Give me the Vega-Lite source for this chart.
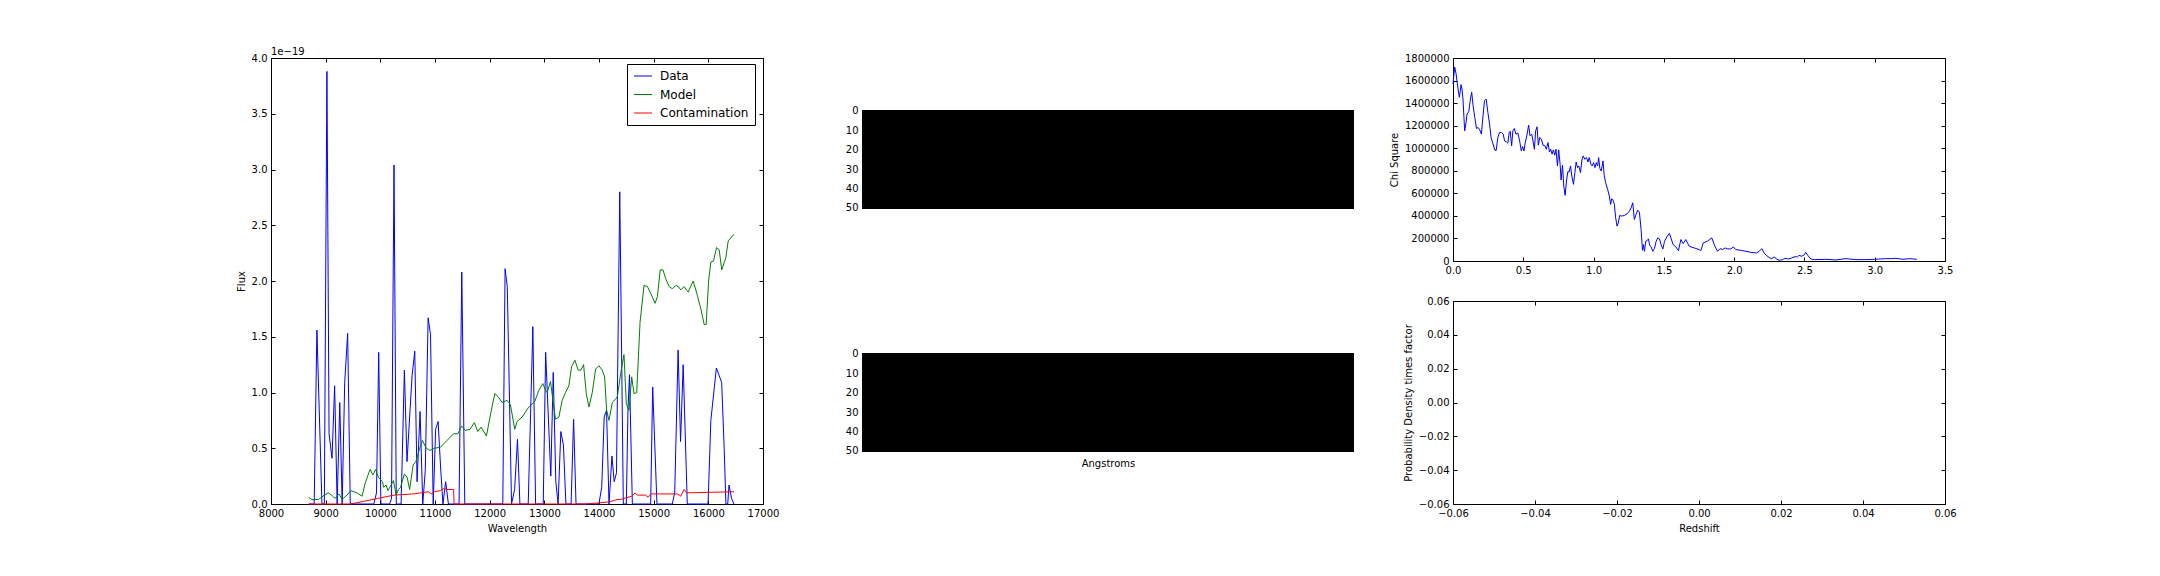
{
  "$schema": "https://vega.github.io/schema/vega-lite/v6.json",
  "background": "white",
  "padding": {"left": 235, "top": 46, "right": 0, "bottom": 0},
  "autosize": {"type": "pad"},
  "bounds": "flush",
  "spacing": 99,
  "datasets": {
    "spectra": [
      {"Wavelength": 8690, "Flux": 0, "Series": "Data"},
      {"Wavelength": 8790, "Flux": 0, "Series": "Data"},
      {"Wavelength": 8840, "Flux": 1.56e-19, "Series": "Data"},
      {"Wavelength": 8932, "Flux": 0, "Series": "Data"},
      {"Wavelength": 8976, "Flux": 0, "Series": "Data"},
      {"Wavelength": 9023, "Flux": 3.88e-19, "Series": "Data"},
      {"Wavelength": 9062, "Flux": 0.63e-19, "Series": "Data"},
      {"Wavelength": 9116, "Flux": 0.41e-19, "Series": "Data"},
      {"Wavelength": 9164, "Flux": 1.06e-19, "Series": "Data"},
      {"Wavelength": 9210, "Flux": 0, "Series": "Data"},
      {"Wavelength": 9258, "Flux": 0.91e-19, "Series": "Data"},
      {"Wavelength": 9302, "Flux": 0, "Series": "Data"},
      {"Wavelength": 9348, "Flux": 1.09e-19, "Series": "Data"},
      {"Wavelength": 9402, "Flux": 1.53e-19, "Series": "Data"},
      {"Wavelength": 9450, "Flux": 0, "Series": "Data"},
      {"Wavelength": 9880, "Flux": 0, "Series": "Data"},
      {"Wavelength": 9930, "Flux": 0.1e-19, "Series": "Data"},
      {"Wavelength": 9970, "Flux": 1.36e-19, "Series": "Data"},
      {"Wavelength": 10010, "Flux": 0, "Series": "Data"},
      {"Wavelength": 10170, "Flux": 0, "Series": "Data"},
      {"Wavelength": 10205, "Flux": 0.05e-19, "Series": "Data"},
      {"Wavelength": 10250, "Flux": 3.04e-19, "Series": "Data"},
      {"Wavelength": 10292, "Flux": 0, "Series": "Data"},
      {"Wavelength": 10380, "Flux": 0, "Series": "Data"},
      {"Wavelength": 10440, "Flux": 1.2e-19, "Series": "Data"},
      {"Wavelength": 10488, "Flux": 0.38e-19, "Series": "Data"},
      {"Wavelength": 10582, "Flux": 1.16e-19, "Series": "Data"},
      {"Wavelength": 10630, "Flux": 1.37e-19, "Series": "Data"},
      {"Wavelength": 10672, "Flux": 0.2e-19, "Series": "Data"},
      {"Wavelength": 10727, "Flux": 0.83e-19, "Series": "Data"},
      {"Wavelength": 10776, "Flux": 0, "Series": "Data"},
      {"Wavelength": 10822, "Flux": 0.3e-19, "Series": "Data"},
      {"Wavelength": 10874, "Flux": 1.67e-19, "Series": "Data"},
      {"Wavelength": 10918, "Flux": 1.52e-19, "Series": "Data"},
      {"Wavelength": 10967, "Flux": 0, "Series": "Data"},
      {"Wavelength": 11012, "Flux": 0.67e-19, "Series": "Data"},
      {"Wavelength": 11057, "Flux": 0.74e-19, "Series": "Data"},
      {"Wavelength": 11100, "Flux": 0.35e-19, "Series": "Data"},
      {"Wavelength": 11145, "Flux": 0, "Series": "Data"},
      {"Wavelength": 11195, "Flux": 0.2e-19, "Series": "Data"},
      {"Wavelength": 11245, "Flux": 0, "Series": "Data"},
      {"Wavelength": 11440, "Flux": 0, "Series": "Data"},
      {"Wavelength": 11490, "Flux": 2.08e-19, "Series": "Data"},
      {"Wavelength": 11545, "Flux": 0, "Series": "Data"},
      {"Wavelength": 12240, "Flux": 0, "Series": "Data"},
      {"Wavelength": 12282, "Flux": 2.11e-19, "Series": "Data"},
      {"Wavelength": 12322, "Flux": 1.95e-19, "Series": "Data"},
      {"Wavelength": 12400, "Flux": 0, "Series": "Data"},
      {"Wavelength": 12456, "Flux": 0.13e-19, "Series": "Data"},
      {"Wavelength": 12509, "Flux": 0.58e-19, "Series": "Data"},
      {"Wavelength": 12553, "Flux": 0, "Series": "Data"},
      {"Wavelength": 12705, "Flux": 0, "Series": "Data"},
      {"Wavelength": 12790, "Flux": 1.59e-19, "Series": "Data"},
      {"Wavelength": 12840, "Flux": 0, "Series": "Data"},
      {"Wavelength": 12980, "Flux": 0, "Series": "Data"},
      {"Wavelength": 13024, "Flux": 1.36e-19, "Series": "Data"},
      {"Wavelength": 13118, "Flux": 0.25e-19, "Series": "Data"},
      {"Wavelength": 13163, "Flux": 1.18e-19, "Series": "Data"},
      {"Wavelength": 13210, "Flux": 0.2e-19, "Series": "Data"},
      {"Wavelength": 13252, "Flux": 0, "Series": "Data"},
      {"Wavelength": 13302, "Flux": 0.65e-19, "Series": "Data"},
      {"Wavelength": 13349, "Flux": 0.53e-19, "Series": "Data"},
      {"Wavelength": 13395, "Flux": 0, "Series": "Data"},
      {"Wavelength": 13490, "Flux": 0, "Series": "Data"},
      {"Wavelength": 13535, "Flux": 0.76e-19, "Series": "Data"},
      {"Wavelength": 13580, "Flux": 0, "Series": "Data"},
      {"Wavelength": 13998, "Flux": 0, "Series": "Data"},
      {"Wavelength": 14050, "Flux": 0.15e-19, "Series": "Data"},
      {"Wavelength": 14095, "Flux": 0.78e-19, "Series": "Data"},
      {"Wavelength": 14138, "Flux": 0.84e-19, "Series": "Data"},
      {"Wavelength": 14183, "Flux": 0, "Series": "Data"},
      {"Wavelength": 14237, "Flux": 0.43e-19, "Series": "Data"},
      {"Wavelength": 14278, "Flux": 0.2e-19, "Series": "Data"},
      {"Wavelength": 14320, "Flux": 0.28e-19, "Series": "Data"},
      {"Wavelength": 14380, "Flux": 2.8e-19, "Series": "Data"},
      {"Wavelength": 14445, "Flux": 0, "Series": "Data"},
      {"Wavelength": 14500, "Flux": 0, "Series": "Data"},
      {"Wavelength": 14530, "Flux": 0.85e-19, "Series": "Data"},
      {"Wavelength": 14558, "Flux": 1.16e-19, "Series": "Data"},
      {"Wavelength": 14610, "Flux": 0, "Series": "Data"},
      {"Wavelength": 14945, "Flux": 0, "Series": "Data"},
      {"Wavelength": 14982, "Flux": 1.05e-19, "Series": "Data"},
      {"Wavelength": 15060, "Flux": 0, "Series": "Data"},
      {"Wavelength": 15340, "Flux": 0, "Series": "Data"},
      {"Wavelength": 15385, "Flux": 0.1e-19, "Series": "Data"},
      {"Wavelength": 15447, "Flux": 1.38e-19, "Series": "Data"},
      {"Wavelength": 15492, "Flux": 0.56e-19, "Series": "Data"},
      {"Wavelength": 15540, "Flux": 1.25e-19, "Series": "Data"},
      {"Wavelength": 15615, "Flux": 0, "Series": "Data"},
      {"Wavelength": 15995, "Flux": 0, "Series": "Data"},
      {"Wavelength": 16046, "Flux": 0.75e-19, "Series": "Data"},
      {"Wavelength": 16147, "Flux": 1.22e-19, "Series": "Data"},
      {"Wavelength": 16244, "Flux": 1.09e-19, "Series": "Data"},
      {"Wavelength": 16290, "Flux": 0.5e-19, "Series": "Data"},
      {"Wavelength": 16322, "Flux": 0, "Series": "Data"},
      {"Wavelength": 16355, "Flux": 0, "Series": "Data"},
      {"Wavelength": 16378, "Flux": 0.17e-19, "Series": "Data"},
      {"Wavelength": 16425, "Flux": 0.05e-19, "Series": "Data"},
      {"Wavelength": 16470, "Flux": 0, "Series": "Data"},

      {"Wavelength": 8690, "Flux": 0.06e-19, "Series": "Model"},
      {"Wavelength": 8745, "Flux": 0.04e-19, "Series": "Model"},
      {"Wavelength": 8870, "Flux": 0.04e-19, "Series": "Model"},
      {"Wavelength": 8975, "Flux": 0.08e-19, "Series": "Model"},
      {"Wavelength": 9045, "Flux": 0.1e-19, "Series": "Model"},
      {"Wavelength": 9110, "Flux": 0.08e-19, "Series": "Model"},
      {"Wavelength": 9170, "Flux": 0.05e-19, "Series": "Model"},
      {"Wavelength": 9245, "Flux": 0.09e-19, "Series": "Model"},
      {"Wavelength": 9300, "Flux": 0.04e-19, "Series": "Model"},
      {"Wavelength": 9390, "Flux": 0.08e-19, "Series": "Model"},
      {"Wavelength": 9460, "Flux": 0.12e-19, "Series": "Model"},
      {"Wavelength": 9570, "Flux": 0.1e-19, "Series": "Model"},
      {"Wavelength": 9665, "Flux": 0.07e-19, "Series": "Model"},
      {"Wavelength": 9725, "Flux": 0.19e-19, "Series": "Model"},
      {"Wavelength": 9790, "Flux": 0.28e-19, "Series": "Model"},
      {"Wavelength": 9815, "Flux": 0.31e-19, "Series": "Model"},
      {"Wavelength": 9862, "Flux": 0.26e-19, "Series": "Model"},
      {"Wavelength": 9915, "Flux": 0.31e-19, "Series": "Model"},
      {"Wavelength": 9965, "Flux": 0.24e-19, "Series": "Model"},
      {"Wavelength": 10040, "Flux": 0.2e-19, "Series": "Model"},
      {"Wavelength": 10060, "Flux": 0.15e-19, "Series": "Model"},
      {"Wavelength": 10105, "Flux": 0.17e-19, "Series": "Model"},
      {"Wavelength": 10140, "Flux": 0.12e-19, "Series": "Model"},
      {"Wavelength": 10240, "Flux": 0.21e-19, "Series": "Model"},
      {"Wavelength": 10290, "Flux": 0.08e-19, "Series": "Model"},
      {"Wavelength": 10330, "Flux": 0.13e-19, "Series": "Model"},
      {"Wavelength": 10370, "Flux": 0.15e-19, "Series": "Model"},
      {"Wavelength": 10440, "Flux": 0.27e-19, "Series": "Model"},
      {"Wavelength": 10490, "Flux": 0.24e-19, "Series": "Model"},
      {"Wavelength": 10536, "Flux": 0.13e-19, "Series": "Model"},
      {"Wavelength": 10600, "Flux": 0.35e-19, "Series": "Model"},
      {"Wavelength": 10650, "Flux": 0.38e-19, "Series": "Model"},
      {"Wavelength": 10720, "Flux": 0.5e-19, "Series": "Model"},
      {"Wavelength": 10770, "Flux": 0.57e-19, "Series": "Model"},
      {"Wavelength": 10840, "Flux": 0.5e-19, "Series": "Model"},
      {"Wavelength": 10905, "Flux": 0.48e-19, "Series": "Model"},
      {"Wavelength": 10990, "Flux": 0.5e-19, "Series": "Model"},
      {"Wavelength": 11100, "Flux": 0.51e-19, "Series": "Model"},
      {"Wavelength": 11220, "Flux": 0.57e-19, "Series": "Model"},
      {"Wavelength": 11340, "Flux": 0.63e-19, "Series": "Model"},
      {"Wavelength": 11420, "Flux": 0.63e-19, "Series": "Model"},
      {"Wavelength": 11485, "Flux": 0.7e-19, "Series": "Model"},
      {"Wavelength": 11556, "Flux": 0.66e-19, "Series": "Model"},
      {"Wavelength": 11640, "Flux": 0.67e-19, "Series": "Model"},
      {"Wavelength": 11720, "Flux": 0.73e-19, "Series": "Model"},
      {"Wavelength": 11782, "Flux": 0.65e-19, "Series": "Model"},
      {"Wavelength": 11843, "Flux": 0.69e-19, "Series": "Model"},
      {"Wavelength": 11941, "Flux": 0.61e-19, "Series": "Model"},
      {"Wavelength": 12014, "Flux": 0.8e-19, "Series": "Model"},
      {"Wavelength": 12094, "Flux": 0.99e-19, "Series": "Model"},
      {"Wavelength": 12161, "Flux": 0.96e-19, "Series": "Model"},
      {"Wavelength": 12227, "Flux": 0.91e-19, "Series": "Model"},
      {"Wavelength": 12319, "Flux": 0.93e-19, "Series": "Model"},
      {"Wavelength": 12380, "Flux": 0.89e-19, "Series": "Model"},
      {"Wavelength": 12459, "Flux": 0.67e-19, "Series": "Model"},
      {"Wavelength": 12502, "Flux": 0.74e-19, "Series": "Model"},
      {"Wavelength": 12594, "Flux": 0.78e-19, "Series": "Model"},
      {"Wavelength": 12716, "Flux": 0.87e-19, "Series": "Model"},
      {"Wavelength": 12826, "Flux": 0.92e-19, "Series": "Model"},
      {"Wavelength": 12899, "Flux": 1.02e-19, "Series": "Model"},
      {"Wavelength": 12973, "Flux": 1.08e-19, "Series": "Model"},
      {"Wavelength": 13022, "Flux": 1.02e-19, "Series": "Model"},
      {"Wavelength": 13052, "Flux": 1.0e-19, "Series": "Model"},
      {"Wavelength": 13113, "Flux": 1.1e-19, "Series": "Model"},
      {"Wavelength": 13156, "Flux": 0.93e-19, "Series": "Model"},
      {"Wavelength": 13205, "Flux": 0.76e-19, "Series": "Model"},
      {"Wavelength": 13266, "Flux": 0.78e-19, "Series": "Model"},
      {"Wavelength": 13327, "Flux": 0.93e-19, "Series": "Model"},
      {"Wavelength": 13388, "Flux": 1.0e-19, "Series": "Model"},
      {"Wavelength": 13449, "Flux": 1.06e-19, "Series": "Model"},
      {"Wavelength": 13498, "Flux": 1.23e-19, "Series": "Model"},
      {"Wavelength": 13559, "Flux": 1.29e-19, "Series": "Model"},
      {"Wavelength": 13620, "Flux": 1.2e-19, "Series": "Model"},
      {"Wavelength": 13669, "Flux": 1.2e-19, "Series": "Model"},
      {"Wavelength": 13718, "Flux": 1.25e-19, "Series": "Model"},
      {"Wavelength": 13767, "Flux": 0.99e-19, "Series": "Model"},
      {"Wavelength": 13816, "Flux": 0.87e-19, "Series": "Model"},
      {"Wavelength": 13877, "Flux": 1.0e-19, "Series": "Model"},
      {"Wavelength": 13938, "Flux": 1.21e-19, "Series": "Model"},
      {"Wavelength": 13999, "Flux": 1.24e-19, "Series": "Model"},
      {"Wavelength": 14060, "Flux": 1.2e-19, "Series": "Model"},
      {"Wavelength": 14103, "Flux": 1.14e-19, "Series": "Model"},
      {"Wavelength": 14140, "Flux": 0.84e-19, "Series": "Model"},
      {"Wavelength": 14182, "Flux": 0.75e-19, "Series": "Model"},
      {"Wavelength": 14244, "Flux": 0.91e-19, "Series": "Model"},
      {"Wavelength": 14300, "Flux": 0.94e-19, "Series": "Model"},
      {"Wavelength": 14335, "Flux": 0.96e-19, "Series": "Model"},
      {"Wavelength": 14396, "Flux": 1.17e-19, "Series": "Model"},
      {"Wavelength": 14457, "Flux": 1.34e-19, "Series": "Model"},
      {"Wavelength": 14500, "Flux": 0.9e-19, "Series": "Model"},
      {"Wavelength": 14549, "Flux": 0.84e-19, "Series": "Model"},
      {"Wavelength": 14598, "Flux": 1.14e-19, "Series": "Model"},
      {"Wavelength": 14641, "Flux": 0.99e-19, "Series": "Model"},
      {"Wavelength": 14690, "Flux": 1.0e-19, "Series": "Model"},
      {"Wavelength": 14751, "Flux": 1.63e-19, "Series": "Model"},
      {"Wavelength": 14824, "Flux": 1.96e-19, "Series": "Model"},
      {"Wavelength": 14885, "Flux": 1.95e-19, "Series": "Model"},
      {"Wavelength": 14946, "Flux": 1.89e-19, "Series": "Model"},
      {"Wavelength": 15026, "Flux": 1.8e-19, "Series": "Model"},
      {"Wavelength": 15068, "Flux": 1.86e-19, "Series": "Model"},
      {"Wavelength": 15120, "Flux": 2.1e-19, "Series": "Model"},
      {"Wavelength": 15170, "Flux": 2.1e-19, "Series": "Model"},
      {"Wavelength": 15221, "Flux": 2.02e-19, "Series": "Model"},
      {"Wavelength": 15282, "Flux": 1.95e-19, "Series": "Model"},
      {"Wavelength": 15343, "Flux": 1.93e-19, "Series": "Model"},
      {"Wavelength": 15404, "Flux": 1.96e-19, "Series": "Model"},
      {"Wavelength": 15453, "Flux": 1.95e-19, "Series": "Model"},
      {"Wavelength": 15496, "Flux": 1.92e-19, "Series": "Model"},
      {"Wavelength": 15557, "Flux": 1.95e-19, "Series": "Model"},
      {"Wavelength": 15631, "Flux": 1.9e-19, "Series": "Model"},
      {"Wavelength": 15722, "Flux": 2.0e-19, "Series": "Model"},
      {"Wavelength": 15789, "Flux": 1.89e-19, "Series": "Model"},
      {"Wavelength": 15863, "Flux": 1.75e-19, "Series": "Model"},
      {"Wavelength": 15924, "Flux": 1.61e-19, "Series": "Model"},
      {"Wavelength": 15960, "Flux": 1.61e-19, "Series": "Model"},
      {"Wavelength": 16005, "Flux": 2.0e-19, "Series": "Model"},
      {"Wavelength": 16046, "Flux": 2.17e-19, "Series": "Model"},
      {"Wavelength": 16095, "Flux": 2.18e-19, "Series": "Model"},
      {"Wavelength": 16150, "Flux": 2.3e-19, "Series": "Model"},
      {"Wavelength": 16199, "Flux": 2.28e-19, "Series": "Model"},
      {"Wavelength": 16245, "Flux": 2.1e-19, "Series": "Model"},
      {"Wavelength": 16321, "Flux": 2.21e-19, "Series": "Model"},
      {"Wavelength": 16364, "Flux": 2.36e-19, "Series": "Model"},
      {"Wavelength": 16470, "Flux": 2.42e-19, "Series": "Model"},

      {"Wavelength": 8690, "Flux": 0, "Series": "Contamination"},
      {"Wavelength": 9460, "Flux": 0, "Series": "Contamination"},
      {"Wavelength": 9950, "Flux": 0.05e-19, "Series": "Contamination"},
      {"Wavelength": 10250, "Flux": 0.08e-19, "Series": "Contamination"},
      {"Wavelength": 10600, "Flux": 0.09e-19, "Series": "Contamination"},
      {"Wavelength": 10740, "Flux": 0.1e-19, "Series": "Contamination"},
      {"Wavelength": 10880, "Flux": 0.11e-19, "Series": "Contamination"},
      {"Wavelength": 10935, "Flux": 0.09e-19, "Series": "Contamination"},
      {"Wavelength": 10990, "Flux": 0.11e-19, "Series": "Contamination"},
      {"Wavelength": 11100, "Flux": 0.12e-19, "Series": "Contamination"},
      {"Wavelength": 11160, "Flux": 0.14e-19, "Series": "Contamination"},
      {"Wavelength": 11200, "Flux": 0.13e-19, "Series": "Contamination"},
      {"Wavelength": 11340, "Flux": 0.13e-19, "Series": "Contamination"},
      {"Wavelength": 11350, "Flux": 0, "Series": "Contamination"},
      {"Wavelength": 13750, "Flux": 0, "Series": "Contamination"},
      {"Wavelength": 14000, "Flux": 0.01e-19, "Series": "Contamination"},
      {"Wavelength": 14200, "Flux": 0.02e-19, "Series": "Contamination"},
      {"Wavelength": 14330, "Flux": 0.04e-19, "Series": "Contamination"},
      {"Wavelength": 14400, "Flux": 0.04e-19, "Series": "Contamination"},
      {"Wavelength": 14450, "Flux": 0.05e-19, "Series": "Contamination"},
      {"Wavelength": 14530, "Flux": 0.06e-19, "Series": "Contamination"},
      {"Wavelength": 14600, "Flux": 0.07e-19, "Series": "Contamination"},
      {"Wavelength": 14660, "Flux": 0.1e-19, "Series": "Contamination"},
      {"Wavelength": 14700, "Flux": 0.08e-19, "Series": "Contamination"},
      {"Wavelength": 14850, "Flux": 0.08e-19, "Series": "Contamination"},
      {"Wavelength": 14900, "Flux": 0.06e-19, "Series": "Contamination"},
      {"Wavelength": 14950, "Flux": 0.09e-19, "Series": "Contamination"},
      {"Wavelength": 15440, "Flux": 0.09e-19, "Series": "Contamination"},
      {"Wavelength": 15497, "Flux": 0.07e-19, "Series": "Contamination"},
      {"Wavelength": 15556, "Flux": 0.13e-19, "Series": "Contamination"},
      {"Wavelength": 15608, "Flux": 0.1e-19, "Series": "Contamination"},
      {"Wavelength": 16470, "Flux": 0.11e-19, "Series": "Contamination"}
    ],
    "chi": [
      {"Redshift": 0.0, "ChiSquare": 1570000},
      {"Redshift": 0.012, "ChiSquare": 1720000},
      {"Redshift": 0.022, "ChiSquare": 1660000},
      {"Redshift": 0.036, "ChiSquare": 1525000},
      {"Redshift": 0.045, "ChiSquare": 1451000},
      {"Redshift": 0.052, "ChiSquare": 1510000},
      {"Redshift": 0.057, "ChiSquare": 1564000},
      {"Redshift": 0.064, "ChiSquare": 1525000},
      {"Redshift": 0.071, "ChiSquare": 1436000},
      {"Redshift": 0.083, "ChiSquare": 1154000},
      {"Redshift": 0.093, "ChiSquare": 1228000},
      {"Redshift": 0.1, "ChiSquare": 1303000},
      {"Redshift": 0.112, "ChiSquare": 1323000},
      {"Redshift": 0.124, "ChiSquare": 1436000},
      {"Redshift": 0.133, "ChiSquare": 1496000},
      {"Redshift": 0.143, "ChiSquare": 1377000},
      {"Redshift": 0.155, "ChiSquare": 1273000},
      {"Redshift": 0.167, "ChiSquare": 1175000},
      {"Redshift": 0.179, "ChiSquare": 1184000},
      {"Redshift": 0.19, "ChiSquare": 1163000},
      {"Redshift": 0.202, "ChiSquare": 1125000},
      {"Redshift": 0.214, "ChiSquare": 1294000},
      {"Redshift": 0.224, "ChiSquare": 1421000},
      {"Redshift": 0.236, "ChiSquare": 1436000},
      {"Redshift": 0.248, "ChiSquare": 1318000},
      {"Redshift": 0.26, "ChiSquare": 1214000},
      {"Redshift": 0.271, "ChiSquare": 1095000},
      {"Redshift": 0.283, "ChiSquare": 1045000},
      {"Redshift": 0.298, "ChiSquare": 982000},
      {"Redshift": 0.307, "ChiSquare": 979000},
      {"Redshift": 0.319, "ChiSquare": 1095000},
      {"Redshift": 0.331, "ChiSquare": 1139000},
      {"Redshift": 0.345, "ChiSquare": 1139000},
      {"Redshift": 0.357, "ChiSquare": 1125000},
      {"Redshift": 0.367, "ChiSquare": 1065000},
      {"Redshift": 0.381, "ChiSquare": 1056000},
      {"Redshift": 0.39, "ChiSquare": 1045000},
      {"Redshift": 0.4, "ChiSquare": 1139000},
      {"Redshift": 0.407, "ChiSquare": 1151000},
      {"Redshift": 0.417, "ChiSquare": 1021000},
      {"Redshift": 0.426, "ChiSquare": 1154000},
      {"Redshift": 0.436, "ChiSquare": 1175000},
      {"Redshift": 0.448, "ChiSquare": 1125000},
      {"Redshift": 0.462, "ChiSquare": 1134000},
      {"Redshift": 0.474, "ChiSquare": 1065000},
      {"Redshift": 0.486, "ChiSquare": 976000},
      {"Redshift": 0.495, "ChiSquare": 1015000},
      {"Redshift": 0.505, "ChiSquare": 976000},
      {"Redshift": 0.514, "ChiSquare": 1050000},
      {"Redshift": 0.526, "ChiSquare": 1116000},
      {"Redshift": 0.538, "ChiSquare": 1205000},
      {"Redshift": 0.548, "ChiSquare": 1110000},
      {"Redshift": 0.56, "ChiSquare": 1125000},
      {"Redshift": 0.569, "ChiSquare": 1065000},
      {"Redshift": 0.579, "ChiSquare": 991000},
      {"Redshift": 0.588, "ChiSquare": 1154000},
      {"Redshift": 0.598, "ChiSquare": 1190000},
      {"Redshift": 0.607, "ChiSquare": 1027000},
      {"Redshift": 0.617, "ChiSquare": 1095000},
      {"Redshift": 0.629, "ChiSquare": 1080000},
      {"Redshift": 0.64, "ChiSquare": 1027000},
      {"Redshift": 0.655, "ChiSquare": 1021000},
      {"Redshift": 0.664, "ChiSquare": 991000},
      {"Redshift": 0.676, "ChiSquare": 1050000},
      {"Redshift": 0.686, "ChiSquare": 967000},
      {"Redshift": 0.695, "ChiSquare": 991000},
      {"Redshift": 0.705, "ChiSquare": 947000},
      {"Redshift": 0.714, "ChiSquare": 985000},
      {"Redshift": 0.724, "ChiSquare": 938000},
      {"Redshift": 0.733, "ChiSquare": 991000},
      {"Redshift": 0.743, "ChiSquare": 843000},
      {"Redshift": 0.752, "ChiSquare": 985000},
      {"Redshift": 0.762, "ChiSquare": 858000},
      {"Redshift": 0.769, "ChiSquare": 718000},
      {"Redshift": 0.779, "ChiSquare": 849000},
      {"Redshift": 0.788, "ChiSquare": 665000},
      {"Redshift": 0.798, "ChiSquare": 582000},
      {"Redshift": 0.807, "ChiSquare": 709000},
      {"Redshift": 0.817, "ChiSquare": 792000},
      {"Redshift": 0.826, "ChiSquare": 789000},
      {"Redshift": 0.836, "ChiSquare": 843000},
      {"Redshift": 0.845, "ChiSquare": 754000},
      {"Redshift": 0.857, "ChiSquare": 680000},
      {"Redshift": 0.867, "ChiSquare": 783000},
      {"Redshift": 0.876, "ChiSquare": 878000},
      {"Redshift": 0.886, "ChiSquare": 828000},
      {"Redshift": 0.895, "ChiSquare": 843000},
      {"Redshift": 0.907, "ChiSquare": 783000},
      {"Redshift": 0.917, "ChiSquare": 896000},
      {"Redshift": 0.926, "ChiSquare": 932000},
      {"Redshift": 0.938, "ChiSquare": 902000},
      {"Redshift": 0.95, "ChiSquare": 917000},
      {"Redshift": 0.96, "ChiSquare": 878000},
      {"Redshift": 0.969, "ChiSquare": 917000},
      {"Redshift": 0.981, "ChiSquare": 858000},
      {"Redshift": 0.99, "ChiSquare": 843000},
      {"Redshift": 1.0, "ChiSquare": 872000},
      {"Redshift": 1.01, "ChiSquare": 828000},
      {"Redshift": 1.019, "ChiSquare": 872000},
      {"Redshift": 1.029, "ChiSquare": 843000},
      {"Redshift": 1.036, "ChiSquare": 917000},
      {"Redshift": 1.045, "ChiSquare": 819000},
      {"Redshift": 1.055, "ChiSquare": 798000},
      {"Redshift": 1.067, "ChiSquare": 887000},
      {"Redshift": 1.076, "ChiSquare": 754000},
      {"Redshift": 1.086, "ChiSquare": 694000},
      {"Redshift": 1.1, "ChiSquare": 635000},
      {"Redshift": 1.112, "ChiSquare": 576000},
      {"Redshift": 1.121, "ChiSquare": 501000},
      {"Redshift": 1.129, "ChiSquare": 552000},
      {"Redshift": 1.138, "ChiSquare": 540000},
      {"Redshift": 1.148, "ChiSquare": 501000},
      {"Redshift": 1.157, "ChiSquare": 383000},
      {"Redshift": 1.167, "ChiSquare": 309000},
      {"Redshift": 1.176, "ChiSquare": 338000},
      {"Redshift": 1.186, "ChiSquare": 404000},
      {"Redshift": 1.2, "ChiSquare": 398000},
      {"Redshift": 1.219, "ChiSquare": 404000},
      {"Redshift": 1.238, "ChiSquare": 418000},
      {"Redshift": 1.255, "ChiSquare": 442000},
      {"Redshift": 1.267, "ChiSquare": 472000},
      {"Redshift": 1.279, "ChiSquare": 516000},
      {"Redshift": 1.29, "ChiSquare": 368000},
      {"Redshift": 1.302, "ChiSquare": 412000},
      {"Redshift": 1.314, "ChiSquare": 451000},
      {"Redshift": 1.326, "ChiSquare": 433000},
      {"Redshift": 1.338, "ChiSquare": 279000},
      {"Redshift": 1.348, "ChiSquare": 95000},
      {"Redshift": 1.355, "ChiSquare": 145000},
      {"Redshift": 1.362, "ChiSquare": 86000},
      {"Redshift": 1.371, "ChiSquare": 175000},
      {"Redshift": 1.381, "ChiSquare": 181000},
      {"Redshift": 1.39, "ChiSquare": 196000},
      {"Redshift": 1.4, "ChiSquare": 136000},
      {"Redshift": 1.41, "ChiSquare": 125000},
      {"Redshift": 1.421, "ChiSquare": 86000},
      {"Redshift": 1.433, "ChiSquare": 110000},
      {"Redshift": 1.445, "ChiSquare": 175000},
      {"Redshift": 1.457, "ChiSquare": 205000},
      {"Redshift": 1.469, "ChiSquare": 196000},
      {"Redshift": 1.48, "ChiSquare": 145000},
      {"Redshift": 1.493, "ChiSquare": 107000},
      {"Redshift": 1.505, "ChiSquare": 175000},
      {"Redshift": 1.524, "ChiSquare": 220000},
      {"Redshift": 1.54, "ChiSquare": 245000},
      {"Redshift": 1.55, "ChiSquare": 205000},
      {"Redshift": 1.566, "ChiSquare": 145000},
      {"Redshift": 1.585, "ChiSquare": 125000},
      {"Redshift": 1.604, "ChiSquare": 92000},
      {"Redshift": 1.621, "ChiSquare": 190000},
      {"Redshift": 1.638, "ChiSquare": 154000},
      {"Redshift": 1.656, "ChiSquare": 190000},
      {"Redshift": 1.68, "ChiSquare": 131000},
      {"Redshift": 1.716, "ChiSquare": 116000},
      {"Redshift": 1.751, "ChiSquare": 101000},
      {"Redshift": 1.763, "ChiSquare": 92000},
      {"Redshift": 1.78, "ChiSquare": 160000},
      {"Redshift": 1.81, "ChiSquare": 175000},
      {"Redshift": 1.841, "ChiSquare": 205000},
      {"Redshift": 1.863, "ChiSquare": 131000},
      {"Redshift": 1.882, "ChiSquare": 86000},
      {"Redshift": 1.9, "ChiSquare": 110000},
      {"Redshift": 1.917, "ChiSquare": 101000},
      {"Redshift": 1.936, "ChiSquare": 116000},
      {"Redshift": 1.953, "ChiSquare": 107000},
      {"Redshift": 1.976, "ChiSquare": 107000},
      {"Redshift": 1.995, "ChiSquare": 125000},
      {"Redshift": 2.012, "ChiSquare": 101000},
      {"Redshift": 2.047, "ChiSquare": 95000},
      {"Redshift": 2.083, "ChiSquare": 86000},
      {"Redshift": 2.118, "ChiSquare": 77000},
      {"Redshift": 2.159, "ChiSquare": 71000},
      {"Redshift": 2.178, "ChiSquare": 86000},
      {"Redshift": 2.197, "ChiSquare": 110000},
      {"Redshift": 2.213, "ChiSquare": 71000},
      {"Redshift": 2.232, "ChiSquare": 47000},
      {"Redshift": 2.254, "ChiSquare": 27000},
      {"Redshift": 2.268, "ChiSquare": 21000},
      {"Redshift": 2.284, "ChiSquare": 36000},
      {"Redshift": 2.303, "ChiSquare": 18000},
      {"Redshift": 2.32, "ChiSquare": 6000},
      {"Redshift": 2.344, "ChiSquare": 12000},
      {"Redshift": 2.363, "ChiSquare": 24000},
      {"Redshift": 2.386, "ChiSquare": 18000},
      {"Redshift": 2.41, "ChiSquare": 27000},
      {"Redshift": 2.434, "ChiSquare": 39000},
      {"Redshift": 2.45, "ChiSquare": 36000},
      {"Redshift": 2.462, "ChiSquare": 50000},
      {"Redshift": 2.481, "ChiSquare": 42000},
      {"Redshift": 2.5, "ChiSquare": 56000},
      {"Redshift": 2.509, "ChiSquare": 77000},
      {"Redshift": 2.526, "ChiSquare": 47000},
      {"Redshift": 2.545, "ChiSquare": 18000},
      {"Redshift": 2.569, "ChiSquare": 12000},
      {"Redshift": 2.652, "ChiSquare": 15000},
      {"Redshift": 2.723, "ChiSquare": 9000},
      {"Redshift": 2.794, "ChiSquare": 21000},
      {"Redshift": 2.865, "ChiSquare": 12000},
      {"Redshift": 2.936, "ChiSquare": 12000},
      {"Redshift": 3.0, "ChiSquare": 15000},
      {"Redshift": 3.076, "ChiSquare": 21000},
      {"Redshift": 3.118, "ChiSquare": 21000},
      {"Redshift": 3.15, "ChiSquare": 24000},
      {"Redshift": 3.2, "ChiSquare": 15000},
      {"Redshift": 3.25, "ChiSquare": 21000},
      {"Redshift": 3.3, "ChiSquare": 15000}
    ]
  },
  "hconcat": [
    {
      "width": 492,
      "height": 446,
      "title": {"text": "1e−19", "anchor": "start", "frame": "group", "baseline": "alphabetic", "offset": -12},
      "data": {"name": "spectra"},
      "layer": [
        {
          "mark": {"type": "line", "strokeWidth": 1},
          "encoding": {
            "x": {"field": "Wavelength", "type": "quantitative",
                  "scale": {"domain": [8000, 17000], "nice": false, "zero": false},
                  "axis": {"orient": "bottom", "title": "Wavelength", "values": [8000, 9000, 10000, 11000, 12000, 13000, 14000, 15000, 16000, 17000], "format": "d"}},
            "y": {"field": "Flux", "type": "quantitative",
                  "scale": {"domain": [0, 4e-19], "nice": false, "zero": false},
                  "axis": {"orient": "left", "title": "Flux", "values": [0, 0.5e-19, 1e-19, 1.5e-19, 2e-19, 2.5e-19, 3e-19, 3.5e-19, 4e-19], "labelExpr": "format(datum.value * 1e19, '.1f')"}},
            "color": {"field": "Series", "type": "nominal",
                      "scale": {"domain": ["Data", "Model", "Contamination"], "range": ["#0000ff", "#008000", "#ff0000"]},
                      "legend": {"orient": "none", "legendX": 356, "legendY": 6, "title": null,
                                 "symbolType": "M-1,0H2.6", "symbolSize": 100, "symbolStrokeWidth": 1,
                                 "labelFont": "DejaVu Sans", "labelFontSize": 12, "labelColor": "black",
                                 "labelOffset": 15, "padding": 6, "rowPadding": 6.5,
                                 "strokeColor": "black", "fillColor": "white", "cornerRadius": 0, "labelLimit": 300}}
          }
        },
        {
          "mark": {"type": "point", "opacity": 0},
          "encoding": {
            "x": {"field": "Wavelength", "type": "quantitative",
                  "scale": {"domain": [8000, 17000], "nice": false, "zero": false},
                  "axis": {"orient": "top", "labels": false, "title": null, "values": [8000, 9000, 10000, 11000, 12000, 13000, 14000, 15000, 16000, 17000]}},
            "y": {"field": "Flux", "type": "quantitative",
                  "scale": {"domain": [0, 4e-19], "nice": false, "zero": false},
                  "axis": {"orient": "right", "labels": false, "title": null, "values": [0, 0.5e-19, 1e-19, 1.5e-19, 2e-19, 2.5e-19, 3e-19, 3.5e-19, 4e-19]}}
          }
        }
      ],
      "resolve": {"scale": {"x": "independent", "y": "independent"}}
    },
    {
      "columns": 2,
      "bounds": "flush",
      "spacing": {"row": 40, "column": 99},
      "concat": [
        {
          "width": 492,
          "height": 203,
          "view": {"stroke": null},
          "data": {"values": [{"col0": -0.5, "col1": 253.5, "row0": -0.5, "row1": 50.5}]},
          "mark": {"type": "rect", "color": "black"},
          "encoding": {
            "x": {"field": "col0", "type": "quantitative", "scale": {"domain": [-0.5, 253.5], "nice": false, "zero": false}, "axis": null},
            "x2": {"field": "col1"},
            "y": {"field": "row0", "type": "quantitative", "scale": {"domain": [-27.24, 77.34], "reverse": true, "nice": false, "zero": false},
                  "axis": {"values": [0, 10, 20, 30, 40, 50], "title": null}},
            "y2": {"field": "row1"}
          }
        },
        {
          "width": 492,
          "height": 203,
          "data": {"name": "chi"},
          "layer": [
            {
              "mark": {"type": "line", "color": "#0000ff", "strokeWidth": 1},
              "encoding": {
                "x": {"field": "Redshift", "type": "quantitative", "scale": {"domain": [0, 3.5], "nice": false, "zero": false},
                      "axis": {"orient": "bottom", "title": null, "values": [0, 0.5, 1, 1.5, 2, 2.5, 3, 3.5], "format": ".1f"}},
                "y": {"field": "ChiSquare", "type": "quantitative", "scale": {"domain": [0, 1800000], "nice": false, "zero": false},
                      "axis": {"orient": "left", "title": "Chi Square", "values": [0, 200000, 400000, 600000, 800000, 1000000, 1200000, 1400000, 1600000, 1800000], "format": "d"}}
              }
            },
            {
              "mark": {"type": "point", "opacity": 0},
              "encoding": {
                "x": {"field": "Redshift", "type": "quantitative", "scale": {"domain": [0, 3.5], "nice": false, "zero": false},
                      "axis": {"orient": "top", "labels": false, "title": null, "values": [0, 0.5, 1, 1.5, 2, 2.5, 3, 3.5]}},
                "y": {"field": "ChiSquare", "type": "quantitative", "scale": {"domain": [0, 1800000], "nice": false, "zero": false},
                      "axis": {"orient": "right", "labels": false, "title": null, "values": [0, 200000, 400000, 600000, 800000, 1000000, 1200000, 1400000, 1600000, 1800000]}}
              }
            }
          ],
          "resolve": {"scale": {"x": "independent", "y": "independent"}}
        },
        {
          "width": 492,
          "height": 203,
          "view": {"stroke": null},
          "data": {"values": [{"col0": -0.5, "col1": 253.5, "row0": -0.5, "row1": 50.5}]},
          "mark": {"type": "rect", "color": "black"},
          "encoding": {
            "x": {"field": "col0", "type": "quantitative", "scale": {"domain": [-0.5, 253.5], "nice": false, "zero": false},
                  "axis": {"title": "Angstroms", "labels": false, "ticks": false, "offset": -52, "titlePadding": 6}},
            "x2": {"field": "col1"},
            "y": {"field": "row0", "type": "quantitative", "scale": {"domain": [-27.24, 77.34], "reverse": true, "nice": false, "zero": false},
                  "axis": {"values": [0, 10, 20, 30, 40, 50], "title": null}},
            "y2": {"field": "row1"}
          }
        },
        {
          "width": 492,
          "height": 203,
          "data": {"values": []},
          "layer": [
            {
              "mark": {"type": "point"},
              "encoding": {
                "x": {"field": "Redshift", "type": "quantitative", "scale": {"domain": [-0.06, 0.06], "nice": false, "zero": false},
                      "axis": {"orient": "bottom", "title": "Redshift", "values": [-0.06, -0.04, -0.02, 0, 0.02, 0.04, 0.06], "format": ".2f"}},
                "y": {"field": "Density", "type": "quantitative", "scale": {"domain": [-0.06, 0.06], "nice": false, "zero": false},
                      "axis": {"orient": "left", "title": "Probability Density times factor", "values": [-0.06, -0.04, -0.02, 0, 0.02, 0.04, 0.06], "format": ".2f"}}
              }
            },
            {
              "mark": {"type": "point", "opacity": 0},
              "encoding": {
                "x": {"field": "Redshift", "type": "quantitative", "scale": {"domain": [-0.06, 0.06], "nice": false, "zero": false},
                      "axis": {"orient": "top", "labels": false, "title": null, "values": [-0.06, -0.04, -0.02, 0, 0.02, 0.04, 0.06]}},
                "y": {"field": "Density", "type": "quantitative", "scale": {"domain": [-0.06, 0.06], "nice": false, "zero": false},
                      "axis": {"orient": "right", "labels": false, "title": null, "values": [-0.06, -0.04, -0.02, 0, 0.02, 0.04, 0.06]}}
              }
            }
          ],
          "resolve": {"scale": {"x": "independent", "y": "independent"}}
        }
      ]
    }
  ],
  "config": {
    "font": "DejaVu Sans",
    "view": {"stroke": "black", "strokeWidth": 1},
    "axis": {"grid": false, "domain": false, "labelFont": "DejaVu Sans", "labelFontSize": 10, "labelColor": "black",
             "titleFont": "DejaVu Sans", "titleFontSize": 10, "titleFontWeight": "normal", "titleColor": "black",
             "tickColor": "black", "tickWidth": 1, "tickSize": -4, "labelPadding": 8, "titlePadding": 5,
             "labelFlush": false, "labelOverlap": false, "labelBound": false},
    "title": {"font": "DejaVu Sans", "fontSize": 10, "fontWeight": "normal", "color": "black"}
  }
}
